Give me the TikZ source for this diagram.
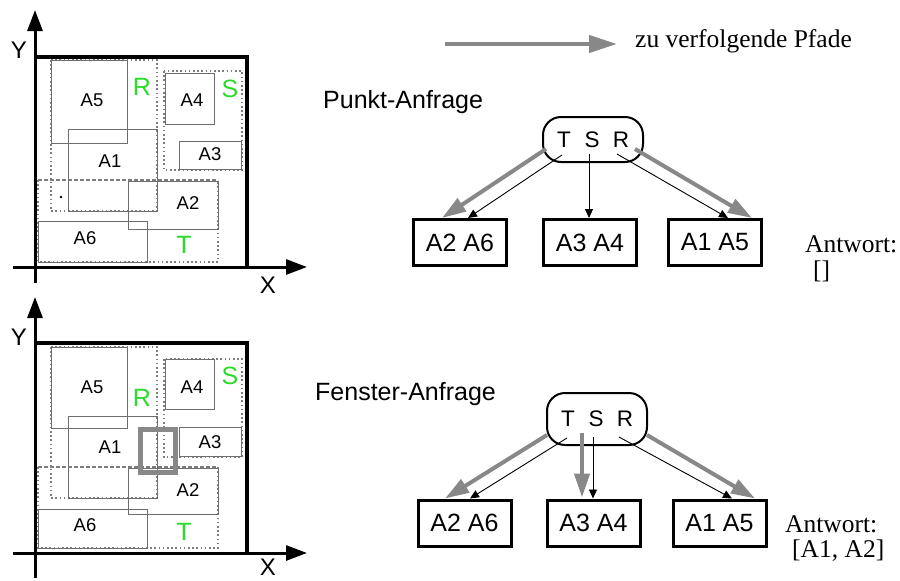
\documentclass[tikz,border=0pt]{standalone}
\usepackage{fontspec}
\setmainfont{Liberation Sans}
\newfontfamily\serifrm{Liberation Serif}
\usetikzlibrary{arrows.meta,calc}
\definecolor{rgreen}{RGB}{40,220,40}
\definecolor{rectgray}{RGB}{110,110,110}
\definecolor{dotgray}{RGB}{125,125,125}
\definecolor{pathgray}{RGB}{136,136,136}
\begin{document}
\begin{tikzpicture}[x=1pt,y=-1pt,
  frame/.style={line width=3.5pt},
  axis/.style={line width=3pt,-{Triangle[length=21pt,width=15pt]}},
  arect/.style={draw=rectgray,line width=1pt},
  drect/.style={draw=dotgray,line width=1.2pt,dash pattern=on 1.6pt off 2.6pt},
  dashrect/.style={draw=dotgray,line width=1.2pt,dash pattern=on 3.5pt off 2.5pt},
  alabel/.style={font=\fontsize{18.5}{18.5}\selectfont,inner sep=0},
  glabel/.style={font=\fontsize{25}{25}\selectfont,text=rgreen,inner sep=0},
  axlabel/.style={font=\fontsize{24}{24}\selectfont,inner sep=0},
  title/.style={font=\fontsize{25}{25}\selectfont,inner sep=0,anchor=base west},
  serif/.style={font=\serifrm\fontsize{25.5}{25.5}\selectfont,inner sep=0,anchor=base west},
  rootbox/.style={draw,line width=2pt,rounded corners=18pt,minimum width=100pt,inner sep=0,font=\fontsize{22.5}{22.5}\selectfont},
  childbox/.style={draw,line width=3pt,minimum width=93pt,minimum height=46pt,inner sep=0,font=\fontsize{25}{25}\selectfont},
  gpath/.style={draw=pathgray,line width=4pt,-{Triangle[length=24pt,width=15pt]}},
  bpath/.style={draw=black,line width=0.9pt,-{Triangle[length=9pt,width=8pt]}}
]
\useasboundingbox (0,0) rectangle (900,581);

% ---------- top plan ----------
\draw[drect] (51,60) rectangle (157,211);
\draw[drect] (164,71) rectangle (242,170);
\draw[drect] (38,180) -- (38,262) -- (218,262) -- (218,180);
\draw[dashrect] (38,180) -- (218,180);
\draw[arect] (51,60) rectangle (127,143);
\draw[arect] (68,129) rectangle (157,211);
\draw[arect] (165,73) rectangle (214,124);
\draw[arect] (179,141) rectangle (241,169);
\draw[arect] (128,181) rectangle (218,229);
\draw[arect] (38,221) rectangle (147,262);
\fill (61,197) circle (1.3pt);
\draw[frame] (35,57) -- (247,57) -- (247,267);
\draw[axis] (35,283) -- (35,10);
\draw[axis] (13,267) -- (307,267);
\node[alabel] (ta5) at (92,100) {A5};
\node[alabel] (ta1) at (110,161) {A1};
\node[alabel] (ta4) at (192,100) {A4};
\node[alabel] (ta3) at (210,154) {A3};
\node[alabel] (ta2) at (188,203) {A2};
\node[alabel] (ta6) at (85,238) {A6};
\node[glabel] (tR) at (142,87) {R};
\node[glabel] (tS) at (230,89) {S};
\node[glabel] (tT) at (184,245) {T};
\node[axlabel] (tY) at (19,50) {Y};
\node[axlabel] (tX) at (268,285) {X};

% ---------- bottom plan ----------
\draw[drect] (51,347) rectangle (157,498);
\draw[drect] (164,359) rectangle (242,457);
\draw[drect] (38,467) -- (38,548) -- (218,548) -- (218,467);
\draw[dashrect] (38,467) -- (218,467);
\draw[arect] (51,347) rectangle (127,428);
\draw[arect] (68,416) rectangle (157,498);
\draw[arect] (165,359) rectangle (214,409);
\draw[arect] (179,427) rectangle (241,456);
\draw[arect] (128,468) rectangle (218,514);
\draw[arect] (38,509) rectangle (147,548);
\draw[pathgray,line width=5pt] (140,429) rectangle (175,472);
\draw[frame] (35,343) -- (247,343) -- (247,553);
\draw[axis] (35,578) -- (35,297);
\draw[axis] (13,553) -- (307,553);
\node[alabel] (ba5) at (92,387) {A5};
\node[alabel] (ba1) at (110,447) {A1};
\node[alabel] (ba4) at (192,387) {A4};
\node[alabel] (ba3) at (210,442) {A3};
\node[alabel] (ba2) at (188,490) {A2};
\node[alabel] (ba6) at (85,525) {A6};
\node[glabel] (bR) at (142,398) {R};
\node[glabel] (bS) at (230,376) {S};
\node[glabel] (bT) at (184,532) {T};
\node[axlabel] (bY) at (19,337) {Y};
\node[axlabel] (bX) at (268,567) {X};

% ---------- legend ----------
\coordinate (legA) at (445,44);
\node[serif] (leg) at (635,47) {zu verfolgende Pfade};
\draw[gpath,-{Triangle[length=28pt,width=17pt]}] (legA) -- ($(leg.base west)+(-18,-3)$);

% ---------- Punkt-Anfrage ----------
\node[title] (pt) at (323,108) {Punkt-Anfrage};
\node[rootbox,minimum height=45pt] (pr) at (593,139.5) {T\hspace{14pt}S\hspace{13pt}R};
\node[childbox] (p1) at (460,242.5) {A2 A6};
\node[childbox] (p2) at (590,242.5) {A3 A4};
\node[childbox] (p3) at (715,242.5) {A1 A5};
\draw[gpath] ($(pr.center)+(-47,9.5)$) -- ($(p1.north)+(-18,0)$);
\draw[bpath] ($(pr.center)+(-31,15.5)$) -- ($(p1.north)+(8,0)$);
\draw[bpath] ($(pr.center)+(-4,14.5)$) -- ($(p2.north)+(-1,0)$);
\draw[bpath] ($(pr.center)+(24,14.5)$) -- ($(p3.north)+(13,0)$);
\draw[gpath] ($(pr.center)+(42,9.5)$) -- ($(p3.north)+(37,0)$);
\node[serif] (pa) at (805,252) {Antwort:};
\node[serif] (pb) at (813,278) {[]};

% ---------- Fenster-Anfrage ----------
\node[title] (ft) at (315,400) {Fenster-Anfrage};
\node[rootbox,minimum height=52pt] (fr) at (597,419) {T\hspace{14pt}S\hspace{13pt}R};
\node[childbox] (f1) at (464.5,523) {A2 A6};
\node[childbox] (f2) at (593.5,523) {A3 A4};
\node[childbox] (f3) at (719.5,523) {A1 A5};
\draw[gpath] ($(fr.center)+(-50,16)$) -- ($(f1.north)+(-19.5,0)$);
\draw[bpath] ($(fr.center)+(-30,19)$) -- ($(f1.north)+(5.5,0)$);
\draw[gpath] ($(fr.center)+(-15,14)$) -- ($(f2.north)+(-11.5,-1)$);
\draw[bpath] ($(fr.center)+(-4,18)$) -- ($(f2.north)+(-0.5,0)$);
\draw[bpath] ($(fr.center)+(22,18)$) -- ($(f3.north)+(12.5,0)$);
\draw[gpath] ($(fr.center)+(50,16)$) -- ($(f3.north)+(35.5,0)$);
\node[serif] (fa) at (785,532) {Antwort:};
\node[serif] (fb) at (792,557) {[A1, A2]};
\end{tikzpicture}
\end{document}
